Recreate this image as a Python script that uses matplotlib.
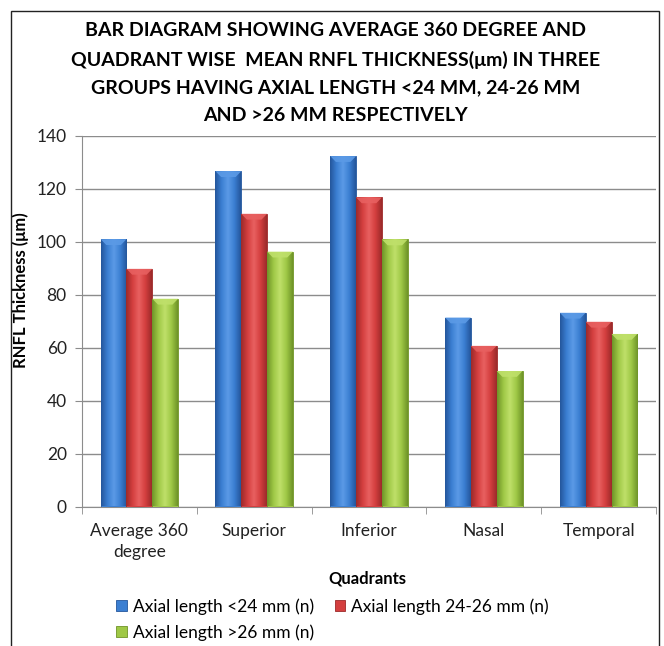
import numpy as np
import matplotlib
matplotlib.use("Agg")
import matplotlib.pyplot as plt
from matplotlib.patches import Polygon, Rectangle
from matplotlib.colors import LinearSegmentedColormap

quadrants = ["Average 360\ndegree", "Superior", "Inferior", "Nasal", "Temporal"]
group_labels = ["Axial length <24 mm (n)", "Axial length 24-26 mm (n)", "Axial length >26 mm (n)"]
al_lt24 = [101, 126.7, 132.4, 71.4, 73.2]
al_24_26 = [89.8, 110.6, 116.8, 60.7, 69.8]
al_gt26 = [78.5, 96.3, 100.9, 51.2, 65.2]

# base, light and dark shades for each series
shades = [
    ("#3b7fd2", "#5b9ae6", "#24569c"),
    ("#d43f3f", "#e86060", "#9c2a2a"),
    ("#9fc846", "#bfe06a", "#6f9428"),
]

plt.rcParams["font.family"] = ["Lato", "DejaVu Sans"]

fig = plt.figure(figsize=(6.64, 6.46), dpi=100)
fig.patches.append(Rectangle((11 / 664, -0.01), 648 / 664, 1 - 11 / 646 + 0.01,
                             transform=fig.transFigure, fill=False,
                             edgecolor="#222222", lw=1.0))

ax = fig.add_axes([82 / 664, 1 - 506.5 / 646, 574 / 664, 370.5 / 646])

x = np.arange(len(quadrants))
w = 0.225
series = [al_lt24, al_24_26, al_gt26]
offsets = [-w, 0, w]

for vals, off, (base, light, dark) in zip(series, offsets, shades):
    bars = ax.bar(x + off, vals, w, color=base, edgecolor=dark, lw=0.6, zorder=3)
    cmap = LinearSegmentedColormap.from_list("b", [dark, base, light, base, dark])
    grad = np.linspace(0, 1, 64).reshape(1, -1)
    for b, v in zip(bars, vals):
        x0 = b.get_x()
        im = ax.imshow(grad, cmap=cmap, aspect="auto", zorder=3.5,
                       extent=(x0, x0 + w, 0, v), origin="lower")
        im.set_clip_path(b)
        # bevelled top cap
        cap_h = 2.2
        inset = w * 0.22
        cap = Polygon([(x0, v), (x0 + w, v), (x0 + w - inset, v - cap_h), (x0 + inset, v - cap_h)],
                      closed=True, facecolor=light, edgecolor="none", zorder=4, alpha=0.9)
        ax.add_patch(cap)

ax.set_ylim(0, 140)
ax.set_xlim(-0.5, len(quadrants) - 0.5)
ax.set_yticks(np.arange(0, 141, 20))
ax.yaxis.grid(True, color="#8c8c8c", lw=1.0, zorder=0)
ax.set_axisbelow(True)
for s in ["top", "right"]:
    ax.spines[s].set_visible(False)
for s in ["left", "bottom"]:
    ax.spines[s].set_color("#8c8c8c")
ax.set_xticks(x)
ax.set_xticklabels(quadrants, fontsize=12.5, color="#222222", linespacing=1.4)
ax.set_xticks(np.arange(len(quadrants) + 1) - 0.5, minor=True)
ax.tick_params(axis="x", which="major", length=0, pad=12)
ax.tick_params(axis="x", which="minor", length=5, color="#8c8c8c")
ax.tick_params(axis="y", length=5, color="#8c8c8c", labelsize=12.5, labelcolor="#222222", pad=6)

ax.set_ylabel("RNFL Thickness (\u03bcm)", fontsize=12, fontweight="bold")
ax.yaxis.set_label_coords(-0.093, 0.584)

fig.text(0.505, 1 - 73 / 646,
         "BAR DIAGRAM SHOWING AVERAGE 360 DEGREE AND\n"
         "QUADRANT WISE  MEAN RNFL THICKNESS(\u03bcm) IN THREE\n"
         "GROUPS HAVING AXIAL LENGTH <24 MM, 24-26 MM\n"
         "AND >26 MM RESPECTIVELY",
         ha="center", va="center", fontsize=14, fontweight="bold", linespacing=1.75)

fig.text(0.553, 1 - 578 / 646, "Quadrants", ha="center", va="center",
         fontsize=12, fontweight="bold")

# column-major fill: blue and red on the first row, green below
order = [0, 2, 1]
handles = [Rectangle((0, 0), 1, 1, facecolor=shades[i][0], edgecolor=shades[i][2], lw=0.6) for i in order]
fig.legend(handles, [group_labels[i] for i in order], loc="upper left",
           bbox_to_anchor=(104 / 664, 1 - 586 / 646),
           ncol=2, frameon=False, fontsize=12.5, handlelength=0.6, handleheight=0.6,
           handletextpad=0.35, columnspacing=1.2, labelspacing=0.55, borderpad=0.2)

fig.savefig("out.png", dpi=100)
